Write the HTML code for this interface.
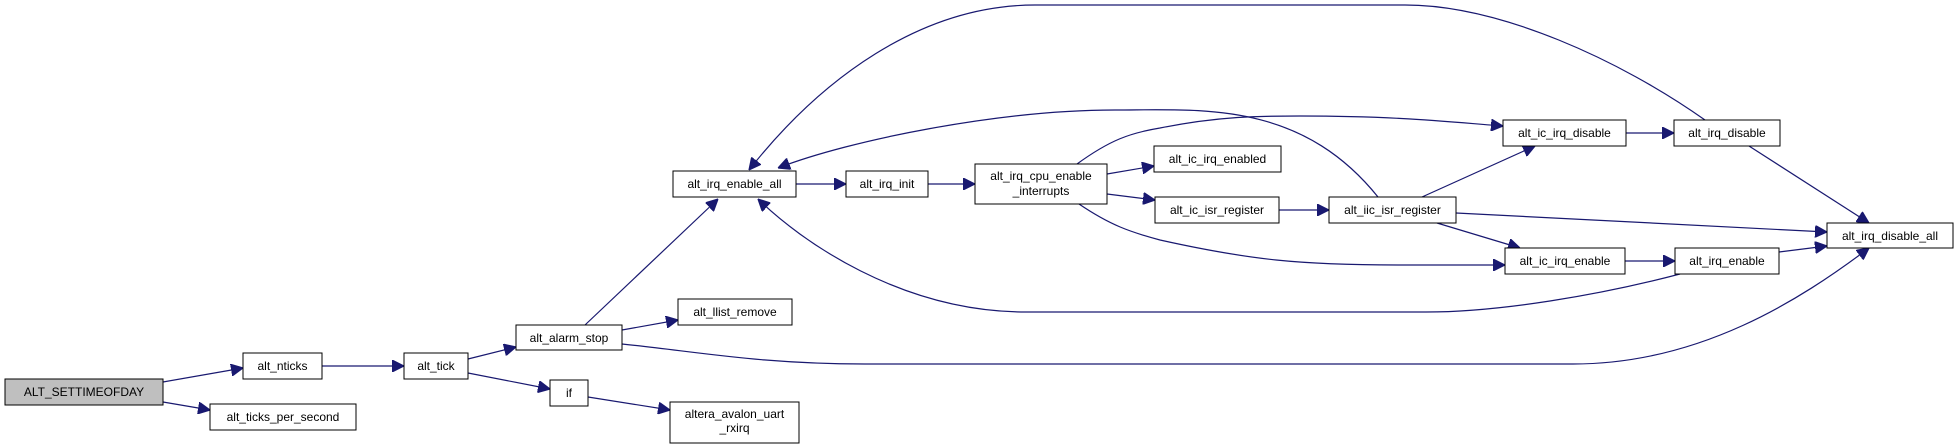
<!DOCTYPE html>
<html><head><meta charset="utf-8"><style>
html,body{margin:0;padding:0;background:#fff;}
svg{display:block;}
text{font-family:"Liberation Sans",sans-serif;font-size:12px;fill:#000;}
.n{fill:#fff;stroke:#000;stroke-width:1;}
.e{fill:none;stroke:#191970;stroke-width:1.2;}
</style></head><body>
<svg width="1959" height="445" viewBox="0 0 1959 445" xmlns="http://www.w3.org/2000/svg">
<defs><marker id="a" viewBox="0 0 10 10" refX="10" refY="5" markerWidth="12" markerHeight="12" markerUnits="userSpaceOnUse" orient="auto"><path d="M0,0 L10,5 L0,10 z" fill="#191970" stroke="#191970"/></marker></defs>
<g class="e" marker-end="url(#a)">
<path d="M163,382 L243,368"/>
<path d="M163,402 L210,410"/>
<path d="M322,366 L404,366"/>
<path d="M468,359 L516,347"/>
<path d="M468,373 L550,389"/>
<path d="M588,397 L670,410"/>
<path d="M585,325 L718,199"/>
<path d="M622,330 L678,320"/>
<path d="M622,344 C700,352 760,364 865,364 L1573,364 C1700,364 1800,300 1869,248"/>
<path d="M796,184 L846,184"/>
<path d="M928,184 L975,184"/>
<path d="M1107,174 L1154,166"/>
<path d="M1107,194 L1155,200"/>
<path d="M1279,210 L1329,210"/>
<path d="M1626,133 L1674,133"/>
<path d="M1625,261 L1675,261"/>
<path d="M1705,120 C1620,60 1500,5 1405,5 L1035,5 C920,5 820,80 749,170"/>
<path d="M1378,197 C1300,100 1200,110 1115,110 C1000,110 850,140 778,168"/>
<path d="M1077,164 C1110,140 1130,133 1160,128 C1220,116 1260,116 1300,116 C1400,116 1450,122 1503,126"/>
<path d="M1079,204 C1110,225 1130,232 1160,240 C1250,260 1300,265 1400,265 L1505,265"/>
<path d="M1422,197 L1535,146"/>
<path d="M1456,213 L1827,232"/>
<path d="M1437,223 L1520,248"/>
<path d="M1749,146 L1869,223"/>
<path d="M1779,252 L1827,246"/>
<path d="M1680,274 C1600,295 1500,312 1426,312 L1026,312 C900,312 800,240 758,199"/>
</g>
<rect x="5" y="379" width="158" height="26" fill="#bfbfbf" stroke="#000"/>
<text x="84" y="396" text-anchor="middle">ALT_SETTIMEOFDAY</text>
<g>
<rect class="n" x="243" y="353" width="79" height="26"/><text x="282.5" y="370" text-anchor="middle">alt_nticks</text>
<rect class="n" x="210" y="404" width="146" height="26"/><text x="283" y="421" text-anchor="middle">alt_ticks_per_second</text>
<rect class="n" x="404" y="353" width="64" height="26"/><text x="436" y="370" text-anchor="middle">alt_tick</text>
<rect class="n" x="516" y="325" width="106" height="25"/><text x="569" y="342" text-anchor="middle">alt_alarm_stop</text>
<rect class="n" x="550" y="380" width="38" height="26"/><text x="569" y="397" text-anchor="middle">if</text>
<rect class="n" x="673" y="171" width="123" height="26"/><text x="734.5" y="188" text-anchor="middle">alt_irq_enable_all</text>
<rect class="n" x="678" y="299" width="114" height="26"/><text x="735" y="316" text-anchor="middle">alt_llist_remove</text>
<rect class="n" x="670" y="402" width="129" height="41"/><text x="734.5" y="418" text-anchor="middle">altera_avalon_uart</text><text x="734.5" y="432" text-anchor="middle">_rxirq</text>
<rect class="n" x="846" y="171" width="82" height="26"/><text x="887" y="188" text-anchor="middle">alt_irq_init</text>
<rect class="n" x="975" y="164" width="132" height="40"/><text x="1041" y="180" text-anchor="middle">alt_irq_cpu_enable</text><text x="1041" y="195" text-anchor="middle">_interrupts</text>
<rect class="n" x="1154" y="146" width="127" height="26"/><text x="1217.5" y="163" text-anchor="middle">alt_ic_irq_enabled</text>
<rect class="n" x="1155" y="197" width="124" height="26"/><text x="1217" y="214" text-anchor="middle">alt_ic_isr_register</text>
<rect class="n" x="1329" y="197" width="127" height="26"/><text x="1392.5" y="214" text-anchor="middle">alt_iic_isr_register</text>
<rect class="n" x="1503" y="120" width="123" height="26"/><text x="1564.5" y="137" text-anchor="middle">alt_ic_irq_disable</text>
<rect class="n" x="1674" y="120" width="106" height="26"/><text x="1727" y="137" text-anchor="middle">alt_irq_disable</text>
<rect class="n" x="1827" y="223" width="126" height="25"/><text x="1890" y="240" text-anchor="middle">alt_irq_disable_all</text>
<rect class="n" x="1505" y="248" width="120" height="26"/><text x="1565" y="265" text-anchor="middle">alt_ic_irq_enable</text>
<rect class="n" x="1675" y="248" width="104" height="26"/><text x="1727" y="265" text-anchor="middle">alt_irq_enable</text>
</g>
</svg>
</body></html>
